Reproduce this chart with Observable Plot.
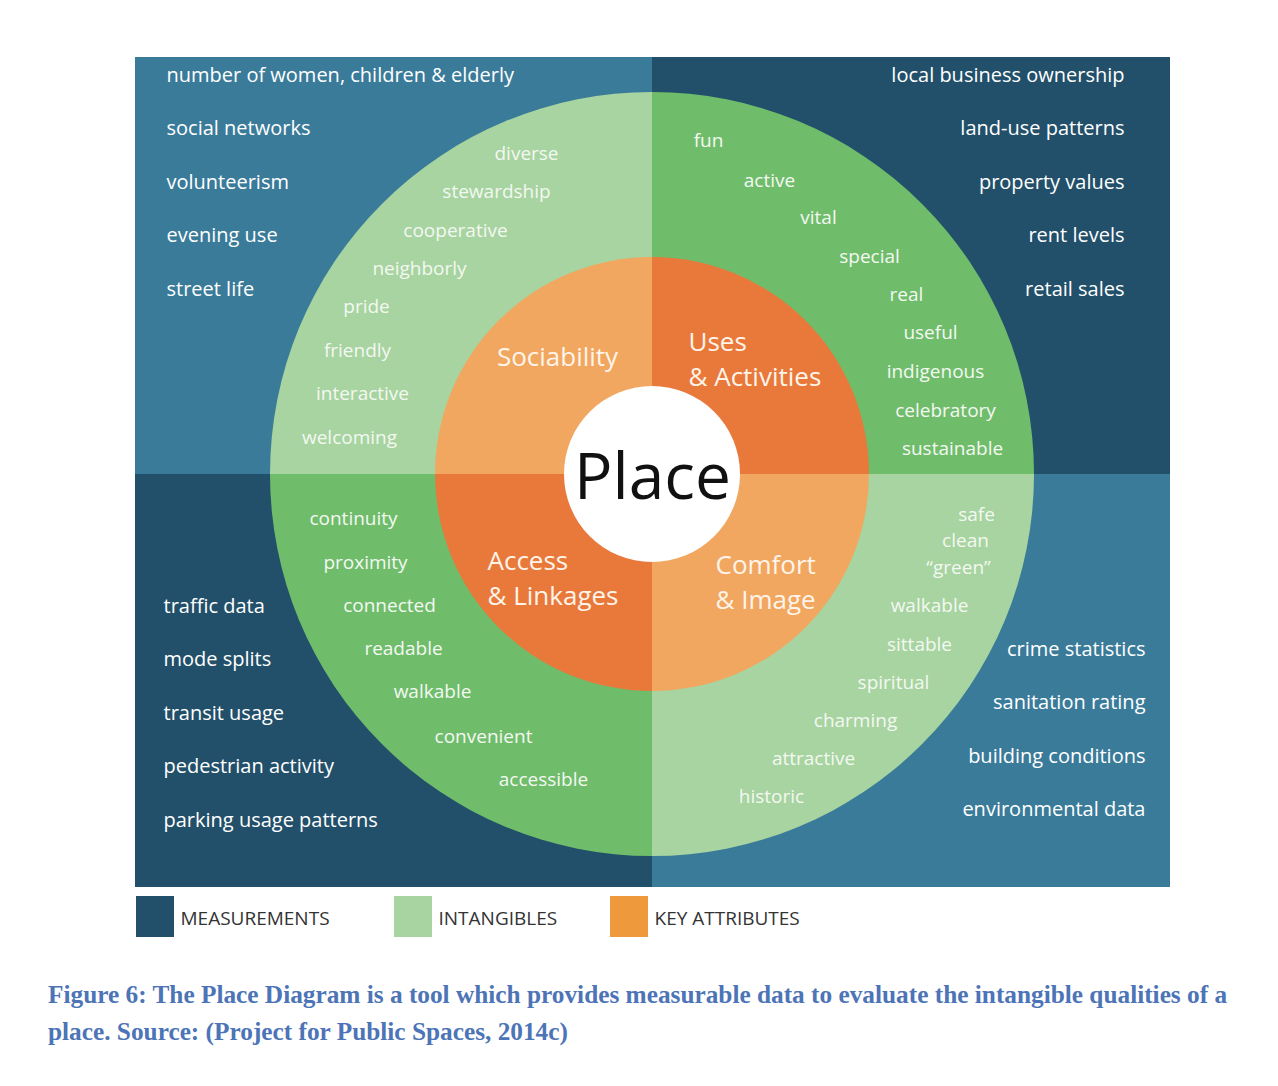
<!DOCTYPE html>
<html><head><meta charset="utf-8">
<script src="https://cdn.jsdelivr.net/npm/d3@7"></script>
<script src="https://cdn.jsdelivr.net/npm/@observablehq/plot@0.6"></script>
<style>
body{margin:0;background:#fff;font-family:"Open Sans",sans-serif}
#caption{font-family:"Liberation Serif",serif;font-weight:bold;color:#4c74b6;font-size:25.3px;line-height:37px;margin:26px 0 0 48px;width:1215px}
</style></head><body>
<div id="chart"></div>
<div id="caption">Figure 6: The Place Diagram is a tool which provides measurable data to evaluate the intangible qualities of a place. Source: (Project for Public Spaces, 2014c)</div>
<script>
// quadrants, clockwise from top-left
const quadrants = ["TL", "TR", "BR", "BL"];
const keyAttributes = ["Sociability", "Uses\n& Activities", "Comfort\n& Image", "Access\n& Linkages"];
const measurements = [
	["number of women, children & elderly", "social networks", "volunteerism", "evening use", "street life"],
	["local business ownership", "land-use patterns", "property values", "rent levels", "retail sales"],
	["crime statistics", "sanitation rating", "building conditions", "environmental data"],
	["traffic data", "mode splits", "transit usage", "pedestrian activity", "parking usage patterns"],
];
const intangibles = [
	["diverse", "stewardship", "cooperative", "neighborly", "pride", "friendly", "interactive", "welcoming"],
	["fun", "active", "vital", "special", "real", "useful", "indigenous", "celebratory", "sustainable"],
	["safe", "clean", "\u201cgreen\u201d", "walkable", "sittable", "spiritual", "charming", "attractive", "historic"],
	["continuity", "proximity", "connected", "readable", "walkable", "convenient", "accessible"],
];
const legendItems = ["MEASUREMENTS", "INTANGIBLES", "KEY ATTRIBUTES"];

// layout (pixels)
const W = 1278, H = 950, cx = 652, cy = 474;
const R = {outer: 382, key: 217, center: 88};
const bg = {x1: 135, x2: 1170, y1: 57, y2: 887};
const col = {
	TL: {m: "#3a7b9a", i: "#a7d4a0", k: "#f1a75f"},
	TR: {m: "#22506a", i: "#6fbd6b", k: "#e8793b"},
	BR: {m: "#3a7b9a", i: "#a7d4a0", k: "#f1a75f"},
	BL: {m: "#22506a", i: "#6fbd6b", k: "#e8793b"},
};
const measLayout = [
	{x: 166, y0: 75, anchor: "start"}, {x: 1124, y0: 75, anchor: "end"},
	{x: 1145, y0: 649, anchor: "end"}, {x: 163, y0: 606, anchor: "start"},
];
const intX = [
	[526, 496, 455, 419, 366, 357, 362, 349],
	[708, 769, 818, 869, 906, 930, 935, 945, 952],
	[976, 965, 958, 929, 919, 893, 855, 813, 771],
	[353, 365, 389, 403, 432, 483, 543],
];
const intY = [
	[153, 191, 230, 268, 306, 350, 393, 437],
	[140, 180, 217, 256, 294, 332, 371, 410, 448],
	[514, 540, 567, 605, 644, 682, 720, 758, 796],
	[518, 562, 605, 648, 691, 736, 779],
];
const keyPos = [{x: 557, y: 357, a: "middle"}, {x: 688, y: 357, a: "start"}, {x: 715, y: 580, a: "start"}, {x: 487, y: 576, a: "start"}];
const quadBox = {
	TL: [bg.x1, cx, bg.y1, cy], TR: [cx, bg.x2, bg.y1, cy],
	BR: [cx, bg.x2, cy, bg.y2], BL: [bg.x1, cx, cy, bg.y2],
};
const startAngle = {TL: -Math.PI / 2, TR: 0, BR: Math.PI / 2, BL: Math.PI};

const measRows = measurements.flatMap((list, q) => list.map((t, i) => ({
	t, x: measLayout[q].x, y: measLayout[q].y0 + i * 53.5, a: measLayout[q].anchor})));
const intRows = intangibles.flatMap((list, q) => list.map((t, i) => ({t, x: intX[q][i], y: intY[q][i]})));
const keyRows = keyAttributes.map((t, q) => ({t, ...keyPos[q]}));
const legendRows = legendItems.map((t, i) => ({t, x: [136, 394, 610][i],
	c: [col.TR.m, col.TL.i, "#ee9a3c"][i]}));

// quarter-disc wedges drawn through the plot scales
function wedges(index, scales) {
	const g = d3.create("svg:g");
	const px = scales.x(cx), py = scales.y(cy);
	const k = scales.x(1) - scales.x(0);
	for (const q of quadrants) {
		const a0 = startAngle[q];
		for (const [r, c] of [[R.outer, col[q].i], [R.key, col[q].k]]) {
			g.append("path")
				.attr("transform", `translate(${px},${py})`)
				.attr("d", d3.arc()({innerRadius: 0, outerRadius: r * k, startAngle: a0, endAngle: a0 + Math.PI / 2}))
				.attr("fill", c);
		}
	}
	g.append("circle").attr("cx", px).attr("cy", py).attr("r", R.center * k).attr("fill", "#fff");
	return g.node();
}

const font = "Open Sans";
const plot = Plot.plot({
	width: W, height: H, margin: 0,
	x: {domain: [0, W], axis: null},
	y: {domain: [H, 0], axis: null},
	marks: [
		Plot.rect(quadrants, {x1: q => quadBox[q][0], x2: q => quadBox[q][1], y1: q => quadBox[q][2], y2: q => quadBox[q][3], fill: q => col[q].m}),
		wedges,
		Plot.text(["Place"], {x: cx, y: cy + 4, fontSize: 64, fill: "#111", fontFamily: font}),
		Plot.text(keyRows.filter(d => d.a === "middle"), {x: "x", y: "y", text: "t", fontSize: 26, fill: "#fff4ea", fontFamily: font}),
		Plot.text(keyRows.filter(d => d.a === "start"), {x: "x", y: "y", text: "t", textAnchor: "start", lineAnchor: "middle", fontSize: 26, lineHeight: 1.35, fill: "#fff4ea", fontFamily: font}),
		Plot.text(intRows, {x: "x", y: "y", text: "t", fontSize: 19, fill: "#f4f8f2", fontFamily: font}),
		Plot.text(measRows.filter(d => d.a === "start"), {x: "x", y: "y", text: "t", textAnchor: "start", fontSize: 20, fill: "#fff", fontFamily: font}),
		Plot.text(measRows.filter(d => d.a === "end"), {x: "x", y: "y", text: "t", textAnchor: "end", fontSize: 20, fill: "#fff", fontFamily: font}),
		Plot.rect(legendRows, {x1: "x", x2: d => d.x + 38, y1: 896, y2: 937, fill: "c"}),
		Plot.text(legendRows, {x: d => d.x + 44, y: 918, text: "t", textAnchor: "start", fontSize: 19, fill: "#333", fontFamily: font}),
	],
});
document.querySelector("#chart").append(plot);
</script>
</body></html>
